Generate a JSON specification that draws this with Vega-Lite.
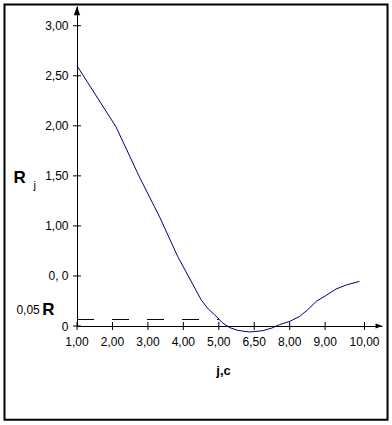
{
  "$schema": "https://vega.github.io/schema/vega-lite/v6.json",
  "autosize": {"type": "none"},
  "width": 305,
  "height": 320,
  "padding": {"left": 77, "top": 6, "right": 10, "bottom": 99},
  "background": "white",
  "config": {
    "view": {"stroke": null},
    "font": "Liberation Sans",
    "axis": {"labelOverlap": false, "labelFlush": false, "labelBound": false, "grid": false, "ticks": false}
  },
  "data": {"values": [{}]},
  "datasets": {
    "curve": [
      {"j": 1.0, "R": 2.60},
      {"j": 2.1, "R": 1.99},
      {"j": 2.76, "R": 1.49},
      {"j": 3.33, "R": 1.09},
      {"j": 3.84, "R": 0.695},
      {"j": 4.17, "R": 0.48},
      {"j": 4.5, "R": 0.263},
      {"j": 4.7, "R": 0.17},
      {"j": 4.88, "R": 0.113},
      {"j": 5.11, "R": 0.03},
      {"j": 5.3, "R": -0.015},
      {"j": 5.54, "R": -0.044},
      {"j": 5.87, "R": -0.06},
      {"j": 6.24, "R": -0.047},
      {"j": 6.5, "R": -0.02},
      {"j": 6.71, "R": 0.013},
      {"j": 7.0, "R": 0.046},
      {"j": 7.28, "R": 0.096},
      {"j": 7.5, "R": 0.16},
      {"j": 7.75, "R": 0.246},
      {"j": 8.0, "R": 0.3},
      {"j": 8.31, "R": 0.37},
      {"j": 8.6, "R": 0.41},
      {"j": 8.97, "R": 0.446}
    ],
    "yticks": [{"v": 0}, {"v": 0.5}, {"v": 1}, {"v": 1.5}, {"v": 2}, {"v": 2.5}, {"v": 3}],
    "xticks": [
      {"p": 1, "lab": "1,00"}, {"p": 2, "lab": "2,00"}, {"p": 3, "lab": "3,00"}, {"p": 4, "lab": "4,00"},
      {"p": 5, "lab": "5,00"}, {"p": 6, "lab": "6,50"}, {"p": 7, "lab": "8,00"}, {"p": 8, "lab": "9,00"},
      {"p": 9.11, "lab": "10,00"}
    ]
  },
  "layer": [
    {
      "data": {"name": "curve"},
      "mark": {"type": "line", "color": "#000080", "strokeWidth": 1, "interpolate": "linear"},
      "encoding": {
        "x": {
          "field": "j", "type": "quantitative",
          "scale": {"domain": [1, 9.604], "nice": false, "zero": false},
          "axis": {
            "values": [1, 2, 3, 4, 5, 6, 7, 8, 9.11],
            "labels": false,
            "ticks": false, "grid": false, "domainColor": "black", "domainWidth": 1,
            "title": "j,c", "titleFont": "Liberation Sans", "titleFontSize": 13, "titleFontWeight": "bold", "titleColor": "black",
            "titleX": 146, "titleY": 38, "titleBaseline": "top", "titleAlign": "center"
          }
        },
        "y": {
          "field": "R", "type": "quantitative",
          "scale": {"domain": [0, 3.197], "nice": false, "zero": false},
          "axis": {
            "values": [0, 0.5, 1, 1.5, 2, 2.5, 3],
            "labelExpr": "datum.value == 0 ? '0' : datum.value == 0.5 ? '0, 0' : replace(format(datum.value, '.2f'), '.', ',')",
            "ticks": false, "grid": false, "domainColor": "black", "domainWidth": 1,
            "labelFont": "Liberation Sans", "labelFontSize": 12, "labelColor": "black", "labelPadding": 9,
            "labelOverlap": false, "labelFlush": false,
            "title": null
          }
        }
      }
    },
    {
      "mark": {"type": "rect", "fill": null, "filled": false, "stroke": "black", "strokeWidth": 2, "clip": false},
      "encoding": {
        "x": {"datum": -1.045, "type": "quantitative"},
        "x2": {"datum": 9.76},
        "y": {"datum": 3.213, "type": "quantitative"},
        "y2": {"datum": -0.936}
      }
    },
    {
      "mark": {"type": "rule", "color": "black", "strokeWidth": 1, "strokeDash": [17, 18]},
      "encoding": {
        "x": {"datum": 1, "type": "quantitative"},
        "x2": {"datum": 5.0},
        "y": {"datum": 0.0652, "type": "quantitative"}
      }
    },
    {
      "data": {"name": "yticks"},
      "mark": {"type": "tick", "orient": "horizontal", "size": 8, "thickness": 1, "color": "black", "opacity": 1},
      "encoding": {
        "x": {"datum": 1, "type": "quantitative"},
        "y": {"field": "v", "type": "quantitative"}
      }
    },
    {
      "data": {"name": "xticks"},
      "mark": {"type": "tick", "orient": "vertical", "size": 8, "thickness": 1, "color": "black", "opacity": 1},
      "encoding": {
        "x": {"field": "p", "type": "quantitative"},
        "y": {"datum": 0, "type": "quantitative"}
      }
    },
    {
      "data": {"name": "xticks"},
      "mark": {"type": "text", "font": "Liberation Sans", "fontSize": 12, "color": "black", "align": "center", "baseline": "top", "dy": 11},
      "encoding": {
        "x": {"field": "p", "type": "quantitative"},
        "y": {"datum": 0, "type": "quantitative"},
        "text": {"field": "lab"}
      }
    },
    {
      "mark": {"type": "point", "shape": "M0,-1L0.7,1L-0.7,1Z", "size": 81, "filled": true, "color": "black", "opacity": 1},
      "encoding": {
        "x": {"datum": 1, "type": "quantitative"},
        "y": {"datum": 3.15, "type": "quantitative"}
      }
    },
    {
      "mark": {"type": "point", "shape": "M1,0L-1,-0.7L-1,0.7Z", "size": 49, "filled": true, "color": "black", "opacity": 1},
      "encoding": {
        "x": {"datum": 9.52, "type": "quantitative"},
        "y": {"datum": 0, "type": "quantitative"}
      }
    },
    {
      "mark": {"type": "text", "text": "R", "font": "Liberation Sans", "fontSize": 17, "fontWeight": "bold", "color": "black", "align": "center", "baseline": "middle"},
      "encoding": {
        "x": {"datum": -0.62, "type": "quantitative"},
        "y": {"datum": 1.476, "type": "quantitative"}
      }
    },
    {
      "mark": {"type": "text", "text": "j", "font": "Liberation Sans", "fontSize": 11, "color": "black", "align": "center", "baseline": "middle"},
      "encoding": {
        "x": {"datum": -0.19, "type": "quantitative"},
        "y": {"datum": 1.40, "type": "quantitative"}
      }
    },
    {
      "mark": {"type": "text", "text": "0,05", "font": "Liberation Sans", "fontSize": 12, "color": "black", "align": "center", "baseline": "middle"},
      "encoding": {
        "x": {"datum": -0.38, "type": "quantitative"},
        "y": {"datum": 0.163, "type": "quantitative"}
      }
    },
    {
      "mark": {"type": "text", "text": "R", "font": "Liberation Sans", "fontSize": 17, "fontWeight": "bold", "color": "black", "align": "center", "baseline": "middle"},
      "encoding": {
        "x": {"datum": 0.196, "type": "quantitative"},
        "y": {"datum": 0.163, "type": "quantitative"}
      }
    }
  ]
}
